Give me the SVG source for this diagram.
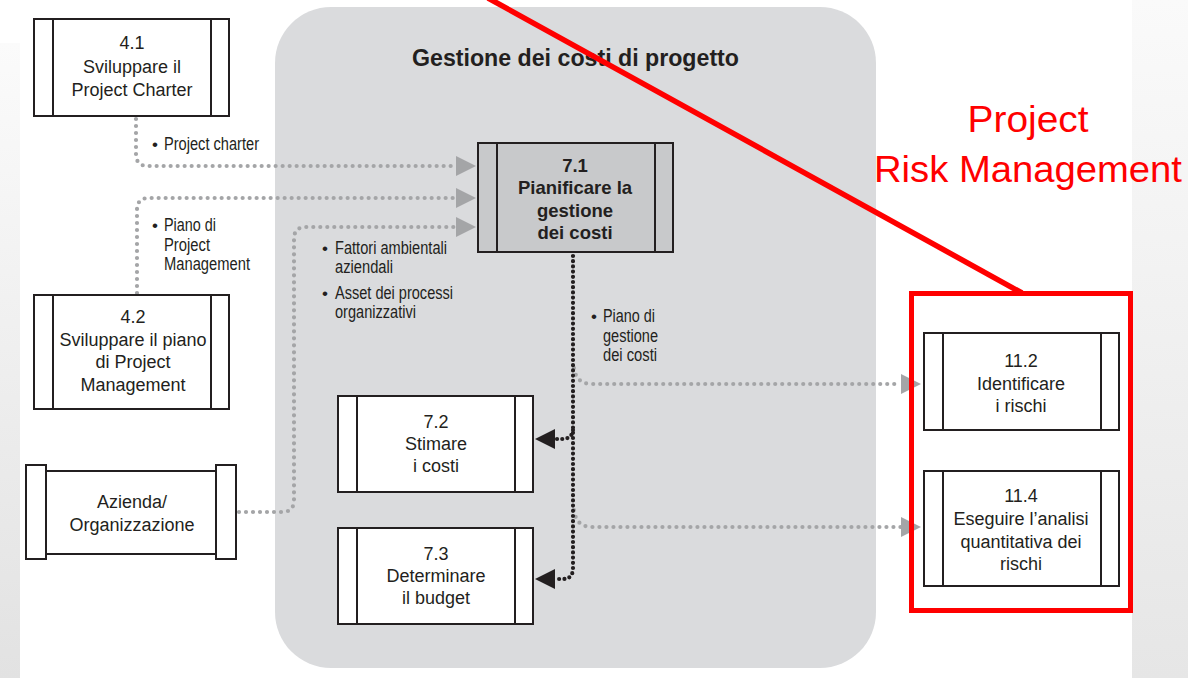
<svg xmlns="http://www.w3.org/2000/svg" width="1188" height="678" viewBox="0 0 1188 678">
<defs>
<linearGradient id="gl" x1="0" y1="0" x2="0" y2="1"><stop offset="0" stop-color="#fbfbfb"/><stop offset="1" stop-color="#e2e2e2"/></linearGradient>
<linearGradient id="gr" x1="0" y1="0" x2="0" y2="1"><stop offset="0" stop-color="#fafafa"/><stop offset="1" stop-color="#e6e6e6"/></linearGradient>
<marker id="ag" viewBox="0 0 20 20" refX="0" refY="10" markerWidth="20" markerHeight="20" markerUnits="userSpaceOnUse" orient="auto"><path d="M0,0 L20,10 L0,20 Z" fill="#a4a5a7"/></marker>
<marker id="ab" viewBox="0 0 20 20" refX="0" refY="10" markerWidth="20" markerHeight="20" markerUnits="userSpaceOnUse" orient="auto"><path d="M0,0 L20,10 L0,20 Z" fill="#231f20"/></marker>
<style>
.box{fill:#fff;stroke:#231f20;stroke-width:2}
.box71{fill:#c8c9cb;stroke:#231f20;stroke-width:2}
.bar{stroke:#231f20;stroke-width:2}
.t{font-family:"Liberation Sans",Arial,sans-serif;font-size:18px;fill:#231f20;text-anchor:middle}
.tb{font-family:"Liberation Sans",Arial,sans-serif;font-size:18.5px;font-weight:bold;fill:#231f20;text-anchor:middle}
.lbl{font-family:"Liberation Sans",Arial,sans-serif;font-size:17.5px;fill:#231f20}
.bul{font-family:"Liberation Sans",Arial,sans-serif;font-size:17px;fill:#231f20;text-anchor:middle}
.gd{fill:none;stroke:#a4a5a7;stroke-width:4.2;stroke-linecap:round;stroke-dasharray:0 7}
.bd{fill:none;stroke:#231f20;stroke-width:4.2;stroke-linecap:round;stroke-dasharray:0 5.2}
.red{font-family:"Liberation Sans",Arial,sans-serif;font-size:36px;fill:#ff0000;text-anchor:middle}
</style>
</defs>
<rect x="0" y="0" width="1188" height="678" fill="#ffffff"/>
<rect x="0" y="43" width="20" height="635" fill="url(#gl)"/>
<rect x="1132" y="0" width="56" height="678" fill="url(#gr)"/>

<g id="group-gestione">
<rect x="275" y="7" width="601" height="661" rx="56" ry="56" fill="#dadbdd"/>
<text x="412" y="66" font-family="Liberation Sans,Arial,sans-serif" font-size="23" font-weight="bold" fill="#231f20" textLength="327" lengthAdjust="spacingAndGlyphs">Gestione dei costi di progetto</text>
</g>

<g id="connectors">
<path class="gd" d="M136 119 V154 Q136 166 148 166 H456" marker-end="url(#ag)"/>
<path class="gd" d="M137 293 V210 Q137 198 149 198 H456" marker-end="url(#ag)"/>
<path class="gd" d="M239 512 H282 Q294 512 294 500 V239 Q294 227 306 227 H456" marker-end="url(#ag)"/>
<path class="gd" d="M574 368 Q576 384 592 384 H901" marker-end="url(#ag)"/>
<path class="gd" d="M574 510 Q576 527 592 527 H901" marker-end="url(#ag)"/>
<path class="bd" d="M573 256 V568 Q573 579 563 579 H555" marker-end="url(#ab)"/>
<path class="bd" d="M573 430 Q572 439 562 439 H555" marker-end="url(#ab)"/>
<text class="bul" x="155" y="150">•</text>
<text class="lbl" x="164" y="150" textLength="95" lengthAdjust="spacingAndGlyphs">Project charter</text>
<text class="bul" x="155" y="231">•</text>
<text class="lbl" x="164" y="231" textLength="52" lengthAdjust="spacingAndGlyphs">Piano di</text>
<text class="lbl" x="164" y="251" textLength="46" lengthAdjust="spacingAndGlyphs">Project</text>
<text class="lbl" x="164" y="270" textLength="86" lengthAdjust="spacingAndGlyphs">Management</text>
<text class="bul" x="325" y="254">•</text>
<text class="lbl" x="335" y="254" textLength="112" lengthAdjust="spacingAndGlyphs">Fattori ambientali</text>
<text class="lbl" x="335" y="273" textLength="58" lengthAdjust="spacingAndGlyphs">aziendali</text>
<text class="bul" x="325" y="299">•</text>
<text class="lbl" x="335" y="299" textLength="118" lengthAdjust="spacingAndGlyphs">Asset dei processi</text>
<text class="lbl" x="335" y="318" textLength="81" lengthAdjust="spacingAndGlyphs">organizzativi</text>
<text class="bul" x="594" y="322">•</text>
<text class="lbl" x="603" y="322" textLength="52" lengthAdjust="spacingAndGlyphs">Piano di</text>
<text class="lbl" x="603" y="342" textLength="55" lengthAdjust="spacingAndGlyphs">gestione</text>
<text class="lbl" x="603" y="361" textLength="54" lengthAdjust="spacingAndGlyphs">dei costi</text>
</g>

<g id="node-4-1">
<rect class="box" x="34" y="19" width="195" height="97"/>
<line class="bar" x1="53" y1="19" x2="53" y2="116"/><line class="bar" x1="211" y1="19" x2="211" y2="116"/>
<text class="t" x="132" y="49">4.1</text>
<text class="t" x="132" y="73">Sviluppare il</text>
<text class="t" x="132" y="96">Project Charter</text>
</g>

<g id="node-4-2">
<rect class="box" x="34" y="295" width="195" height="114"/>
<line class="bar" x1="53" y1="295" x2="53" y2="409"/><line class="bar" x1="211" y1="295" x2="211" y2="409"/>
<text class="t" x="133" y="323">4.2</text>
<text class="t" x="133" y="346">Sviluppare il piano</text>
<text class="t" x="133" y="368">di Project</text>
<text class="t" x="133" y="391">Management</text>
</g>

<g id="node-azienda">
<rect class="box" x="46" y="471" width="170" height="83"/>
<rect class="box" x="26" y="465" width="20" height="94"/>
<rect class="box" x="216" y="465" width="20" height="94"/>
<text class="t" x="132" y="508">Azienda/</text>
<text class="t" x="132" y="531">Organizzazione</text>
</g>

<g id="node-7-1">
<rect class="box71" x="478" y="143" width="195" height="109"/>
<line class="bar" x1="497" y1="143" x2="497" y2="252"/><line class="bar" x1="655" y1="143" x2="655" y2="252"/>
<text class="tb" x="575" y="172">7.1</text>
<text class="tb" x="575" y="194">Pianificare la</text>
<text class="tb" x="575" y="217">gestione</text>
<text class="tb" x="575" y="239">dei costi</text>
</g>

<g id="node-7-2">
<rect class="box" x="338" y="396" width="195" height="96"/>
<line class="bar" x1="357" y1="396" x2="357" y2="492"/><line class="bar" x1="515" y1="396" x2="515" y2="492"/>
<text class="t" x="436" y="428">7.2</text>
<text class="t" x="436" y="450">Stimare</text>
<text class="t" x="436" y="472">i costi</text>
</g>

<g id="node-7-3">
<rect class="box" x="338" y="528" width="195" height="96"/>
<line class="bar" x1="357" y1="528" x2="357" y2="624"/><line class="bar" x1="515" y1="528" x2="515" y2="624"/>
<text class="t" x="436" y="560">7.3</text>
<text class="t" x="436" y="582">Determinare</text>
<text class="t" x="436" y="604">il budget</text>
</g>

<g id="node-11-2">
<rect class="box" x="924" y="333" width="195" height="97"/>
<line class="bar" x1="943" y1="333" x2="943" y2="430"/><line class="bar" x1="1101" y1="333" x2="1101" y2="430"/>
<text class="t" x="1021" y="367">11.2</text>
<text class="t" x="1021" y="390">Identificare</text>
<text class="t" x="1021" y="412">i rischi</text>
</g>

<g id="node-11-4">
<rect class="box" x="924" y="471" width="195" height="115"/>
<line class="bar" x1="943" y1="471" x2="943" y2="586"/><line class="bar" x1="1101" y1="471" x2="1101" y2="586"/>
<text class="t" x="1021" y="502">11.4</text>
<text class="t" x="1021" y="525">Eseguire l’analisi</text>
<text class="t" x="1021" y="548">quantitativa dei</text>
<text class="t" x="1021" y="570">rischi</text>
</g>

<g id="annotation-risk">
<line x1="488" y1="-2" x2="1022" y2="293" stroke="#ff0000" stroke-width="5.5"/>
<rect x="911.5" y="293.5" width="219" height="317" fill="none" stroke="#ff0000" stroke-width="5"/>
<text class="red" x="1028" y="132" textLength="121" lengthAdjust="spacingAndGlyphs">Project</text>
<text class="red" x="1028" y="182" textLength="308" lengthAdjust="spacingAndGlyphs">Risk Management</text>
</g>
</svg>
